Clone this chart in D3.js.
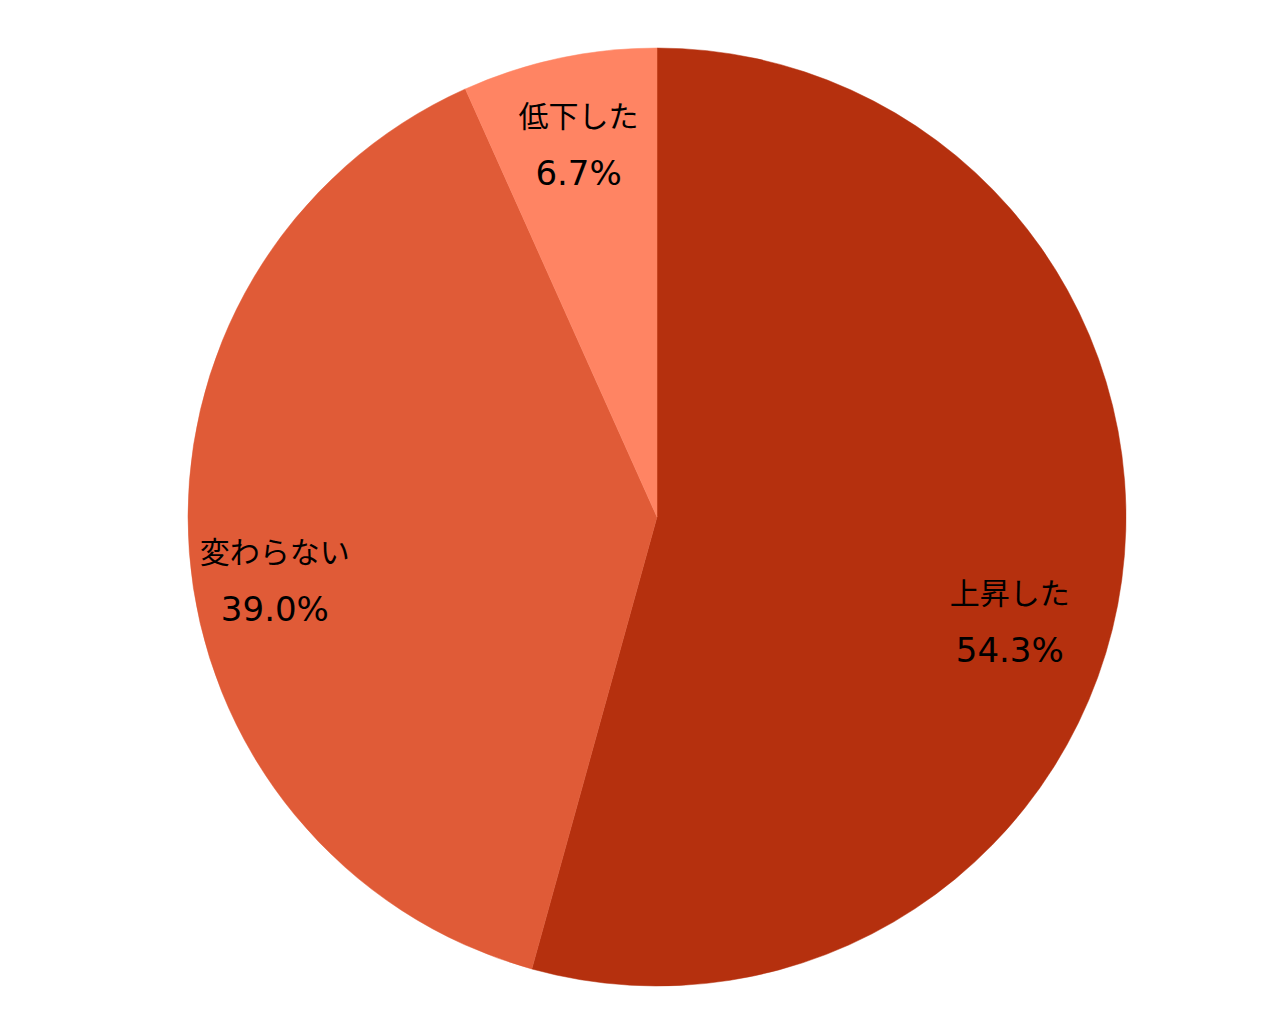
<!DOCTYPE html>
<html><head><meta charset="utf-8">
<script src="https://cdn.jsdelivr.net/npm/d3@7"></script>
<style>body{margin:0;background:#fff}svg{display:block}</style>
</head><body>
<script>
const categories = ["上昇した", "変わらない", "低下した"];
const values = [54.3, 39.0, 6.7];
const colors = ["#B5300E", "#E05B37", "#FF8463"];

const W = 1280, H = 1024, cx = 657, cy = 517, R = 469;
const labelOffsets = [[-19, 59], [-8, 41], [0, 0]];

const svg = d3.select("body").append("svg").attr("width", W).attr("height", H);
const g = svg.append("g").attr("transform", `translate(${cx},${cy})`);
const data = categories.map((c, i) => ({cat: c, v: values[i], col: colors[i], i}));
const pie = d3.pie().sort(null).value(d => d.v);
const arc = d3.arc().innerRadius(0).outerRadius(R);
const labelArc = d3.arc().innerRadius(R * 0.8).outerRadius(R * 0.8);
const arcs = pie(data);

g.selectAll("path").data(arcs).enter().append("path")
  .attr("d", arc).attr("fill", d => d.data.col)
  .attr("stroke", d => d.data.col).attr("stroke-width", 0.5);

const lab = g.selectAll("g.lab").data(arcs).enter().append("g")
  .attr("transform", d => {
    const c = labelArc.centroid(d);
    const o = labelOffsets[d.data.i];
    return `translate(${c[0] + o[0]},${c[1] + o[1]})`;
  });
lab.append("text").attr("text-anchor", "middle").attr("y", -23)
  .style("font-family", "'Noto Sans CJK JP', sans-serif").style("font-size", "30px").attr("fill", "#000")
  .text(d => d.data.cat);
lab.append("text").attr("text-anchor", "middle").attr("y", 35)
  .style("font-family", "'DejaVu Sans', sans-serif").style("font-size", "34px").attr("fill", "#000")
  .text(d => d.data.v.toFixed(1) + "%");
</script>
</body></html>
